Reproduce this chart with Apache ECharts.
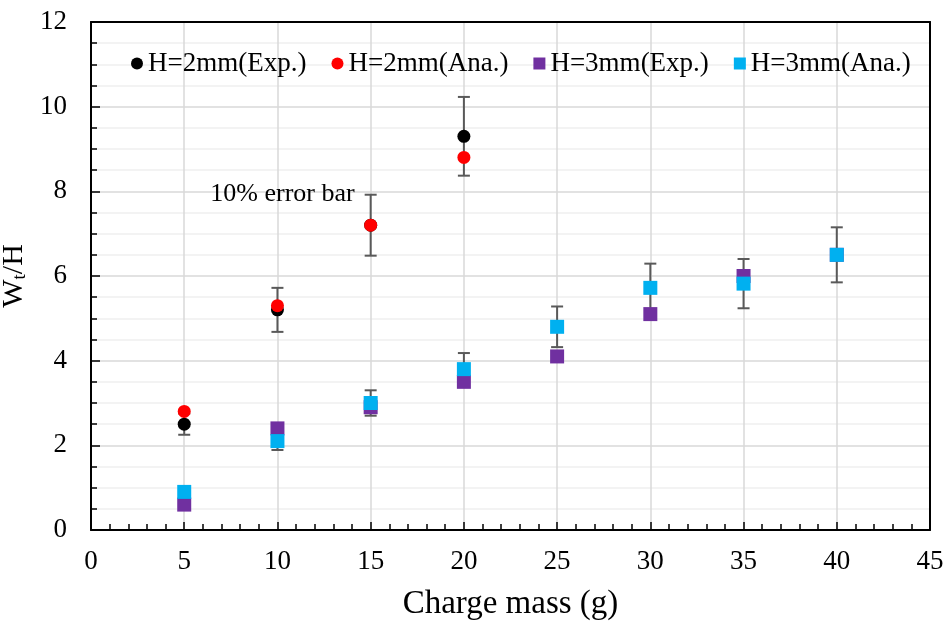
<!DOCTYPE html>
<html><head><meta charset="utf-8">
<script src="https://cdn.jsdelivr.net/npm/echarts@6/dist/echarts.min.js"></script>
<style>html,body{margin:0;padding:0;background:#fff}#c{width:945px;height:621px}</style>
</head><body><div id="c"></div>
<script>
// ---- data ----
const chargeMass2 = [5, 10, 15, 20];
const exp2mm = [2.5, 5.2, 7.2, 9.3];
const ana2mm = [2.8, 5.3, 7.2, 8.8];
const chargeMass3 = [5, 10, 15, 20, 25, 30, 35, 40];
const exp3mm = [0.6, 2.4, 2.9, 3.5, 4.1, 5.1, 6.0, 6.5];
const ana3mm = [0.9, 2.1, 3.0, 3.8, 4.8, 5.72, 5.82, 6.5];
const errorFraction = 0.10; // "10% error bar"
const seriesNames = ['H=2mm(Exp.)', 'H=2mm(Ana.)', 'H=3mm(Exp.)', 'H=3mm(Ana.)'];
const annotationText = '10% error bar';

const FONT = "'Liberation Serif', 'Times New Roman', serif";
const pairs = (xs, ys) => xs.map((x, i) => [x, ys[i]]);
const errs = (xs, ys) => xs.map((x, i) => [x, ys[i] * (1 - errorFraction), ys[i] * (1 + errorFraction)]);

function errRender(params, api) {
  const x = api.value(0), lo = api.value(1), hi = api.value(2);
  const pLo = api.coord([x, lo]), pHi = api.coord([x, hi]);
  const cw = 6;
  const style = { stroke: '#595959', lineWidth: 2 };
  return { type: 'group', children: [
    { type: 'line', shape: { x1: pLo[0], y1: pLo[1], x2: pHi[0], y2: pHi[1] }, style },
    { type: 'line', shape: { x1: pLo[0] - cw, y1: pLo[1], x2: pLo[0] + cw, y2: pLo[1] }, style },
    { type: 'line', shape: { x1: pHi[0] - cw, y1: pHi[1], x2: pHi[0] + cw, y2: pHi[1] }, style }
  ]};
}

const chart = echarts.init(document.getElementById('c'), null, { renderer: 'canvas' });
const axisBase = {
  axisLine: { show: true, onZero: false, lineStyle: { color: '#000', width: 2 } },
};
chart.setOption({
  animation: false,
  backgroundColor: '#fff',
  textStyle: { fontFamily: FONT },
  grid: { left: 91, right: 15, top: 22, bottom: 91, containLabel: false, outerBoundsMode: 'none' },
  legend: {
    left: 126, top: 45, itemWidth: 12, itemHeight: 12, itemGap: 25,
    textStyle: { fontFamily: FONT, fontSize: 27, color: '#000' },
    data: [
      { name: seriesNames[0], icon: 'circle' },
      { name: seriesNames[1], icon: 'circle' },
      { name: seriesNames[2], icon: 'rect' },
      { name: seriesNames[3], icon: 'rect' }
    ]
  },
  xAxis: [{
    type: 'value', min: 0, max: 45, interval: 5, position: 'bottom',
    ...axisBase,
    axisTick: { show: true, inside: true, length: 8, lineStyle: { color: '#000', width: 1.5 } },
    minorTick: { show: true, splitNumber: 5, length: 6, lineStyle: { color: '#000', width: 1.5 } },
    splitLine: { show: true, lineStyle: { color: '#d9d9d9', width: 1.5 } },
    axisLabel: { fontFamily: FONT, fontSize: 27, color: '#000', margin: 18 },
    name: 'Charge mass (g)', nameLocation: 'middle', nameGap: 58,
    nameTextStyle: { fontFamily: FONT, fontSize: 33, color: '#000' }
  }, {
    type: 'value', min: 0, max: 45, position: 'top',
    ...axisBase, axisTick: { show: false }, axisLabel: { show: false }, splitLine: { show: false }
  }],
  yAxis: [{
    type: 'value', min: 0, max: 12, interval: 2, position: 'left',
    ...axisBase,
    axisTick: { show: true, inside: true, length: 9, lineStyle: { color: '#000', width: 1.5 } },
    minorTick: { show: true, splitNumber: 4, length: 6, lineStyle: { color: '#000', width: 1.5 } },
    splitLine: { show: true, lineStyle: { color: '#d9d9d9', width: 1.5 } },
    minorSplitLine: { show: true, lineStyle: { color: '#f0f0f0', width: 1.5 } },
    axisLabel: { fontFamily: FONT, fontSize: 27, color: '#000', margin: 24 },
    name: '{a|W}{b|t}{a|/H}', nameLocation: 'middle', nameGap: 44, nameRotate: 90,
    nameTextStyle: {
      fontFamily: FONT, fontSize: 30, color: '#000',
      rich: {
        a: { fontFamily: FONT, fontSize: 30, color: '#000', lineHeight: 30 },
        b: { fontFamily: FONT, fontSize: 19, color: '#000', lineHeight: 14, verticalAlign: 'bottom' }
      }
    }
  }, {
    type: 'value', min: 0, max: 12, position: 'right',
    ...axisBase, axisTick: { show: false }, axisLabel: { show: false }, splitLine: { show: false }
  }],
  series: [
    { type: 'custom', name: 'err2', renderItem: errRender, data: errs(chargeMass2, exp2mm), z: 2, silent: true },
    { type: 'custom', name: 'err3', renderItem: errRender, data: errs(chargeMass3, ana3mm), z: 2, silent: true },
    { type: 'scatter', name: seriesNames[0], data: pairs(chargeMass2, exp2mm), symbol: 'circle', symbolSize: 13, itemStyle: { color: '#000000', opacity: 1 }, z: 3 },
    { type: 'scatter', name: seriesNames[1], data: pairs(chargeMass2, ana2mm), symbol: 'circle', symbolSize: 13, itemStyle: { color: '#ff0000', opacity: 1 }, z: 4 },
    { type: 'scatter', name: seriesNames[2], data: pairs(chargeMass3, exp3mm), symbol: 'rect', symbolSize: 14, itemStyle: { color: '#7030a0', opacity: 1 }, z: 5 },
    { type: 'scatter', name: seriesNames[3], data: pairs(chargeMass3, ana3mm), symbol: 'rect', symbolSize: 14, itemStyle: { color: '#00b0f0', opacity: 1 }, z: 6 }
  ]
});
const p = chart.convertToPixel({ xAxisIndex: 0, yAxisIndex: 0 }, [6.4, 7.9]);
chart.setOption({
  graphic: [{
    type: 'text', left: p[0], top: p[1] - 14, z: 10,
    style: { text: annotationText, font: "26px 'Liberation Serif', serif", fill: '#000' }
  }]
});
</script></body></html>
